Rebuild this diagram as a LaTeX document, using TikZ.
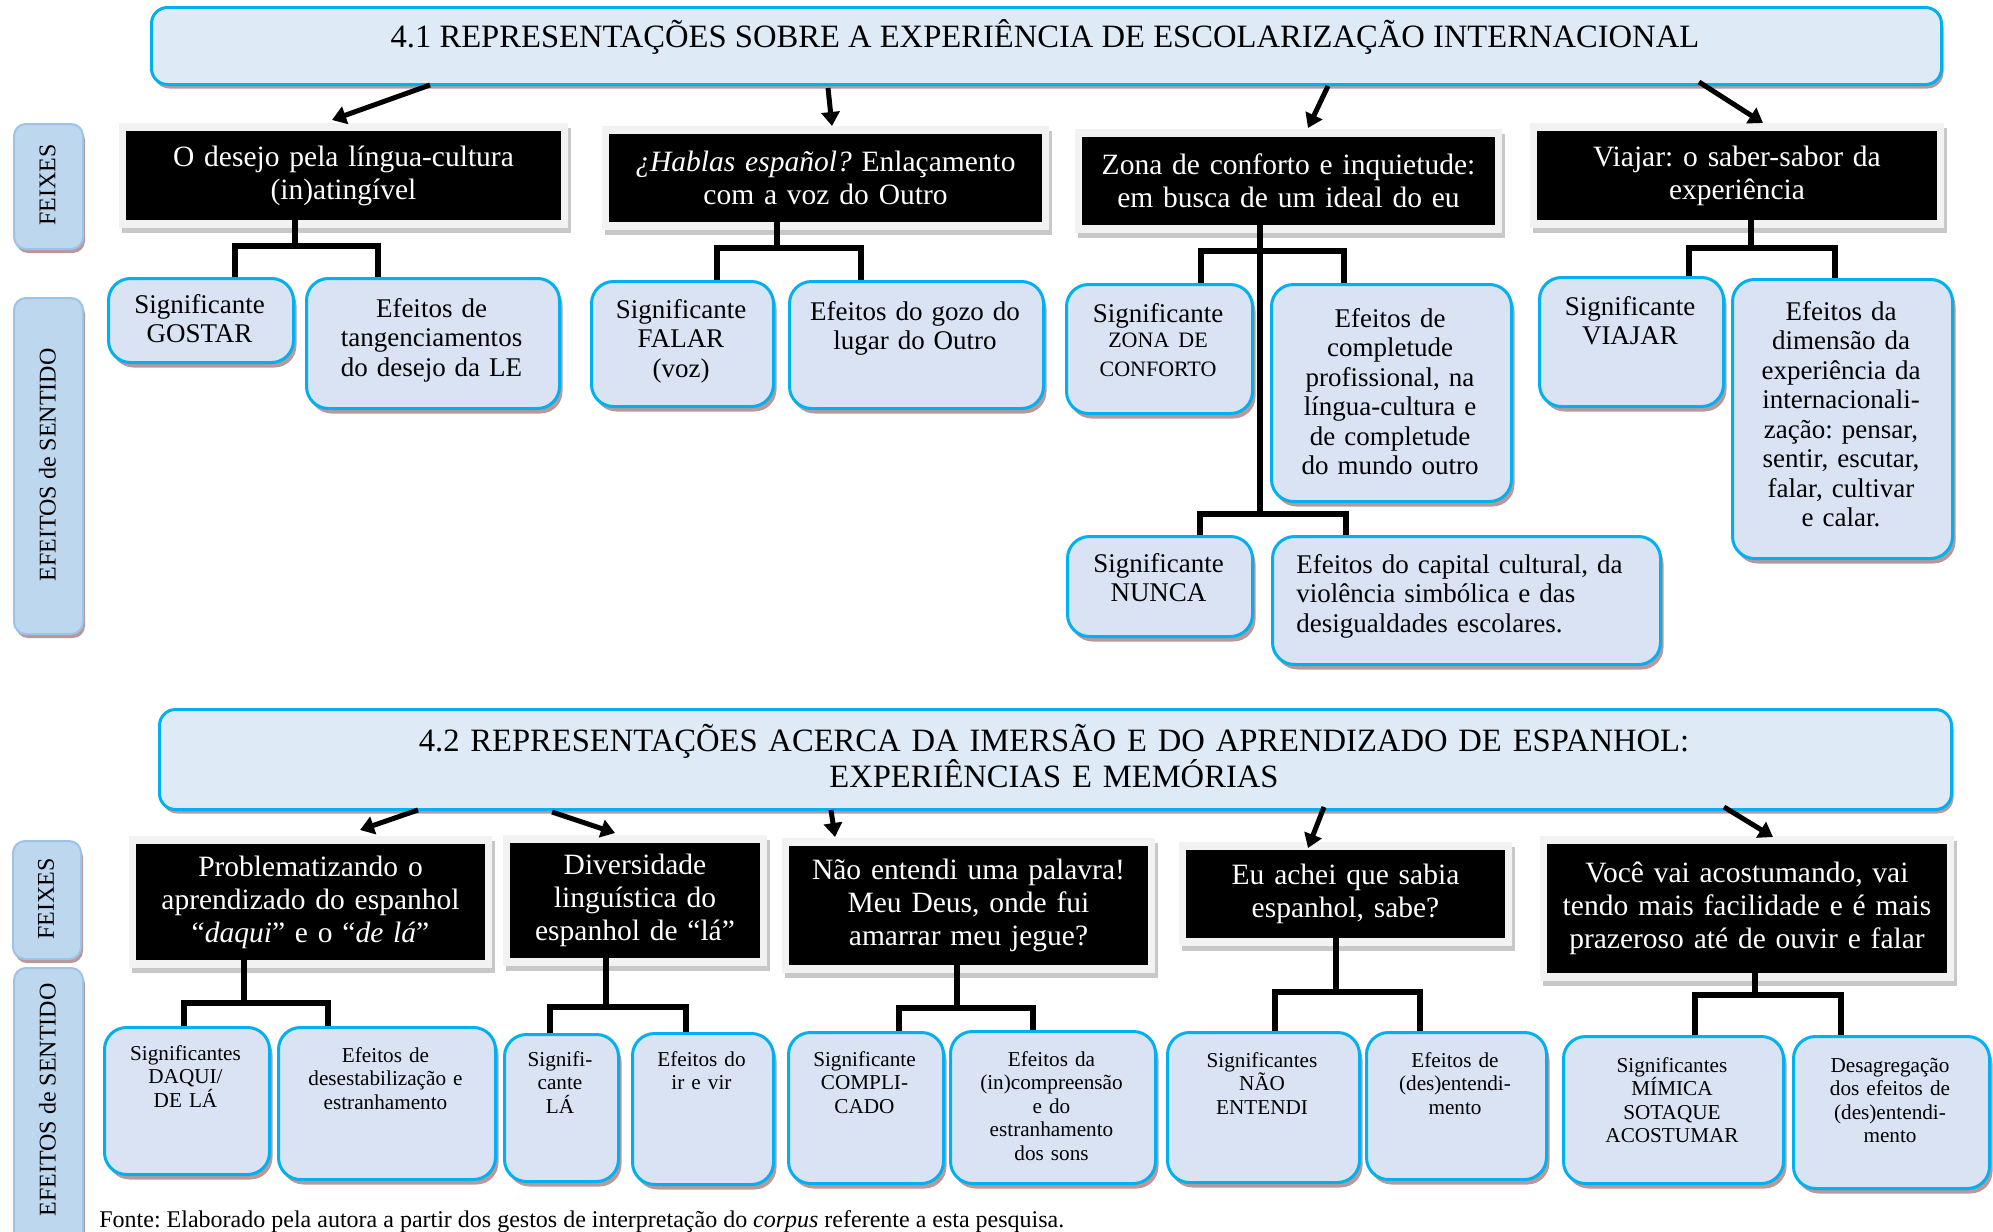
\documentclass[tikz,border=0pt]{standalone}
\usepackage{fontspec}
\setmainfont{Liberation Serif}
\usetikzlibrary{arrows.meta,shadows}
\frenchspacing

\definecolor{tfill}{RGB}{222,235,247}
\definecolor{cyanb}{RGB}{0,176,240}
\definecolor{bshadow}{RGB}{186,152,152}
\definecolor{cfill}{RGB}{218,227,243}
\definecolor{sfill}{RGB}{189,215,238}
\definecolor{sdraw}{RGB}{157,195,230}
\definecolor{fframe}{RGB}{242,242,242}
\definecolor{fshadow}{RGB}{200,200,200}

\tikzset{
  cbox/.style={draw=cyanb, line width=1.5pt, fill=cfill, rounded corners=11pt, inner sep=0pt,
    drop shadow={shadow xshift=1.5pt, shadow yshift=-2.5pt, fill=bshadow, opacity=1}},
  titlebox/.style={draw=cyanb, line width=1.5pt, fill=tfill, rounded corners=8pt, inner sep=0pt,
    drop shadow={shadow xshift=1pt, shadow yshift=-2pt, fill=bshadow, opacity=1}},
  sbox/.style={draw=sdraw, line width=1pt, fill=sfill, rounded corners=6pt, inner sep=0pt,
    drop shadow={shadow xshift=1pt, shadow yshift=-2pt, fill=bshadow, opacity=1}},
  fbox/.style={fill=black, text=white, inner sep=0pt, align=center,
    font=\fontsize{14.75}{16.5}\selectfont},
  ctext/.style={align=center, inner sep=0pt, font=\fontsize{13.5}{14.75}\selectfont},
  dtext/.style={align=center, inner sep=0pt, font=\fontsize{10.6}{11.75}\selectfont},
  ttext/.style={align=center, inner sep=0pt, font=\fontsize{16.3}{18}\selectfont},
  stext/.style={inner sep=0pt, font=\fontsize{12}{14}\selectfont},
  ftext/.style={inner sep=0pt, font=\fontsize{12}{14}\selectfont},
  conn/.style={line width=3pt, line join=miter},
  arr/.style={line width=2.5pt, -{Triangle[length=7pt,width=9pt]}}
}

\newcommand\BoxAt[6]{%
  \pgfmathsetmacro\bxw{(#5-#3)*0.5}%
  \pgfmathsetmacro\bxh{(#6-#4)*0.5}%
  \node[#1, anchor=north west, minimum width=\bxw pt, minimum height=\bxh pt] (#2) at (#3,#4) {};%
}
\newcommand\CBox[8]{%
  \BoxAt{cbox}{#1}{#2}{#3}{#4}{#5}%
  \pgfmathsetmacro\bxc{(#2+#4)/2}%
  \pgfmathsetmacro\bxt{(#4-#2)*0.5-6}%
  \node[#7, text width=\bxt pt, anchor=base] (#1t) at (\bxc,#6) {#8};%
}
\newcommand\FBox[6]{%
  \fill[fshadow] (#2-4,#3-3) rectangle (#4+10,#5+13);%
  \fill[fframe] (#2-7,#3-8) rectangle (#4+7,#5+8);%
  \pgfmathsetmacro\bxc{(#2+#4)/2}%
  \pgfmathsetmacro\byc{(#3+#5)/2}%
  \pgfmathsetmacro\bxw{(#4-#2)*0.5}%
  \pgfmathsetmacro\bxh{(#5-#3)*0.5}%
  \pgfmathsetmacro\bxt{(#4-#2)*0.5-8}%
  \node[fbox, minimum width=\bxw pt, minimum height=\bxh pt, text width=\bxt pt] (#1) at (\bxc,\byc) {#6};%
}
\newcommand\SLabel[7]{%
  \BoxAt{sbox}{#1}{#2}{#3}{#4}{#5}%
  \pgfmathsetmacro\bxc{(#2+#4)/2}%
  \node[stext, rotate=90] (#1t) at (\bxc,#6) {#7};%
}

\begin{document}
\begin{tikzpicture}[x=0.5pt,y=-0.5pt]
\useasboundingbox (0,0) rectangle (1993,1232);
\clip (0,0) rectangle (1993,1232);

% ---------- side labels ----------
\SLabel{S1}{13}{123}{82}{248}{185}{FEIXES}
\SLabel{S2}{13}{297}{82}{633}{465}{EFEITOS de SENTIDO}
\SLabel{S3}{12}{840}{80}{958}{899}{FEIXES}
\SLabel{S4}{13}{967}{82}{1260}{1100}{EFEITOS de SENTIDO}

% ---------- section 4.1 ----------
\BoxAt{titlebox}{T1}{150}{6}{1940}{83}
\node[ttext, anchor=base] (T1t) at (1045,47) {4.1 REPRESENTAÇÕES SOBRE A EXPERIÊNCIA DE ESCOLARIZAÇÃO INTERNACIONAL};

\FBox{A1}{126}{131}{561}{220}{O desejo pela língua-cultura\\(in)atingível}
\FBox{A2}{609}{134}{1042}{222}{\textit{¿Hablas español?} Enlaçamento\\com a voz do Outro}
\FBox{A3}{1082}{137}{1495}{225}{Zona de conforto e inquietude:\\em busca de um ideal do eu}
\FBox{A4}{1537}{131}{1937}{220}{Viajar: o saber-sabor da\\experiência}

\CBox{B1}{107}{277}{292}{361}{313}{ctext}{Significante\\GOSTAR}
\CBox{B2}{305}{277}{558}{407}{317}{ctext}{Efeitos de\\tangenciamentos\\do desejo da LE}
\CBox{B3}{590}{280}{772}{405}{318}{ctext}{Significante\\FALAR\\(voz)}
\CBox{B4}{788}{280}{1042}{407}{320}{ctext}{Efeitos do gozo do\\lugar do Outro}
\CBox{B5}{1065}{283}{1251}{412}{322}{ctext}{Significante\\\fontsize{11}{12.5}\selectfont ZONA DE\\CONFORTO}
\CBox{B6}{1270}{283}{1510}{500}{327}{ctext}{Efeitos de\\completude\\profissional, na\\língua-cultura e\\de completude\\do mundo outro}
\CBox{B7}{1066}{535}{1251}{635}{572}{ctext}{Significante\\NUNCA}
\BoxAt{cbox}{B8}{1271}{535}{1659}{663}
\node[ctext, align=left, text width=180pt, anchor=base west] (B8t) at (1296,573) {Efeitos do capital cultural, da\\violência simbólica e das\\desigualdades escolares.};
\CBox{B9}{1538}{276}{1722}{405}{315}{ctext}{Significante\\VIAJAR}
\CBox{B10}{1731}{278}{1951}{557}{320}{ctext}{Efeitos da\\dimensão da\\experiência da\\internacionali-\\zação: pensar,\\sentir, escutar,\\falar, cultivar\\e calar.}

% arrows 4.1
\coordinate (T1a) at (430,85);   \coordinate (A1in) at (332,120);
\coordinate (T1b) at (828,88);   \coordinate (A2in) at (832,126);
\coordinate (T1c) at (1328,86);  \coordinate (A3in) at (1308,128);
\coordinate (T1d) at (1699,82);  \coordinate (A4in) at (1763,123);
\draw[arr] (T1a) -- (A1in);
\draw[arr] (T1b) -- (A2in);
\draw[arr] (T1c) -- (A3in);
\draw[arr] (T1d) -- (A4in);

% tree connectors 4.1
\coordinate (A1j) at (295,246); \coordinate (A1l) at (235,246); \coordinate (A1r) at (378,246);
\draw[conn] (A1.south -| A1j) -- (A1j);
\draw[conn] (B1.north -| A1l) |- (A1r) -- (B2.north -| A1r);

\coordinate (A2j) at (777,248); \coordinate (A2l) at (717,248); \coordinate (A2r) at (861,248);
\draw[conn] (A2.south -| A2j) -- (A2j);
\draw[conn] (B3.north -| A2l) |- (A2r) -- (B4.north -| A2r);

\coordinate (A3j) at (1260,514); \coordinate (A3l) at (1201,251); \coordinate (A3r) at (1344,251);
\coordinate (A3l2) at (1200,514); \coordinate (A3r2) at (1346,514);
\draw[conn] (A3.south -| A3j) -- (A3j);
\draw[conn] (B5.north -| A3l) |- (A3r) -- (B6.north -| A3r);
\draw[conn] (B7.north -| A3l2) |- (A3r2) -- (B8.north -| A3r2);

\coordinate (A4j) at (1751,248); \coordinate (A4l) at (1689,248); \coordinate (A4r) at (1835,248);
\draw[conn] (A4.south -| A4j) -- (A4j);
\draw[conn] (B9.north -| A4l) |- (A4r) -- (B10.north -| A4r);

% ---------- section 4.2 ----------
\BoxAt{titlebox}{T2}{158}{708}{1950}{808}
\node[ttext, text width=880pt, anchor=base] (T2t) at (1054,751) {4.2 REPRESENTAÇÕES ACERCA DA IMERSÃO E DO APRENDIZADO DE ESPANHOL:\\EXPERIÊNCIAS E MEMÓRIAS};

\FBox{C1}{136}{844}{485}{960}{Problematizando o\\aprendizado do espanhol\\“\textit{daqui}” e o “\textit{de lá}”}
\FBox{C2}{510}{843}{760}{958}{Diversidade\\linguística do\\espanhol de “lá”}
\FBox{C3}{789}{846}{1148}{965}{Não entendi uma palavra!\\Meu Deus, onde fui\\amarrar meu jegue?}
\FBox{C4}{1186}{850}{1505}{938}{Eu achei que sabia\\espanhol, sabe?}
\FBox{C5}{1547}{844}{1947}{973}{Você vai acostumando, vai\\tendo mais facilidade e é mais\\prazeroso até de ouvir e falar}

\CBox{D1}{103}{1026}{268}{1173}{1060}{dtext}{Significantes\\DAQUI/\\DE LÁ}
\CBox{D2}{277}{1026}{494}{1178}{1062}{dtext}{Efeitos de\\desestabilização e\\estranhamento}
\CBox{D3}{503}{1033}{617}{1180}{1066}{dtext}{Signifi-\\cante\\LÁ}
\CBox{D4}{631}{1032}{772}{1183}{1066}{dtext}{Efeitos do\\ir e vir}
\CBox{D5}{787}{1031}{942}{1182}{1066}{dtext}{Significante\\COMPLI-\\CADO}
\CBox{D6}{949}{1030}{1154}{1182}{1066}{dtext}{Efeitos da\\(in)compreensão\\e do\\estranhamento\\dos sons}
\CBox{D7}{1166}{1031}{1358}{1181}{1067}{dtext}{Significantes\\NÃO\\ENTENDI}
\CBox{D8}{1365}{1031}{1545}{1178}{1067}{dtext}{Efeitos de\\(des)entendi-\\mento}
\CBox{D9}{1562}{1035}{1782}{1182}{1072}{dtext}{Significantes\\MÍMICA\\SOTAQUE\\ACOSTUMAR}
\CBox{D10}{1792}{1035}{1988}{1187}{1072}{dtext}{Desagregação\\dos efeitos de\\(des)entendi-\\mento}

% arrows 4.2
\coordinate (T2a) at (418,810);  \coordinate (C1in) at (360,830);
\coordinate (T2b) at (552,812);  \coordinate (C2in) at (615,833);
\coordinate (T2c) at (831,810);  \coordinate (C3in) at (835,837);
\coordinate (T2d) at (1324,807); \coordinate (C4in) at (1308,848);
\coordinate (T2e) at (1724,807); \coordinate (C5in) at (1773,837);
\draw[arr] (T2a) -- (C1in);
\draw[arr] (T2b) -- (C2in);
\draw[arr] (T2c) -- (C3in);
\draw[arr] (T2d) -- (C4in);
\draw[arr] (T2e) -- (C5in);

% tree connectors 4.2
\coordinate (C1j) at (244,1003); \coordinate (C1l) at (184,1003); \coordinate (C1r) at (328,1003);
\draw[conn] (C1.south -| C1j) -- (C1j);
\draw[conn] (D1.north -| C1l) |- (C1r) -- (D2.north -| C1r);

\coordinate (C2j) at (606,1007); \coordinate (C2l) at (550,1007); \coordinate (C2r) at (686,1007);
\draw[conn] (C2.south -| C2j) -- (C2j);
\draw[conn] (D3.north -| C2l) |- (C2r) -- (D4.north -| C2r);

\coordinate (C3j) at (957,1008); \coordinate (C3l) at (899,1008); \coordinate (C3r) at (1033,1008);
\draw[conn] (C3.south -| C3j) -- (C3j);
\draw[conn] (D5.north -| C3l) |- (C3r) -- (D6.north -| C3r);

\coordinate (C4j) at (1336,992); \coordinate (C4l) at (1275,992); \coordinate (C4r) at (1420,992);
\draw[conn] (C4.south -| C4j) -- (C4j);
\draw[conn] (D7.north -| C4l) |- (C4r) -- (D8.north -| C4r);

\coordinate (C5j) at (1755,995); \coordinate (C5l) at (1695,995); \coordinate (C5r) at (1841,995);
\draw[conn] (C5.south -| C5j) -- (C5j);
\draw[conn] (D9.north -| C5l) |- (C5r) -- (D10.north -| C5r);

% source line
\node[ftext, anchor=base west] (fonte) at (99,1227) {Fonte: Elaborado pela autora a partir dos gestos de interpretação do \textit{corpus} referente a esta pesquisa.};
\end{tikzpicture}
\end{document}
